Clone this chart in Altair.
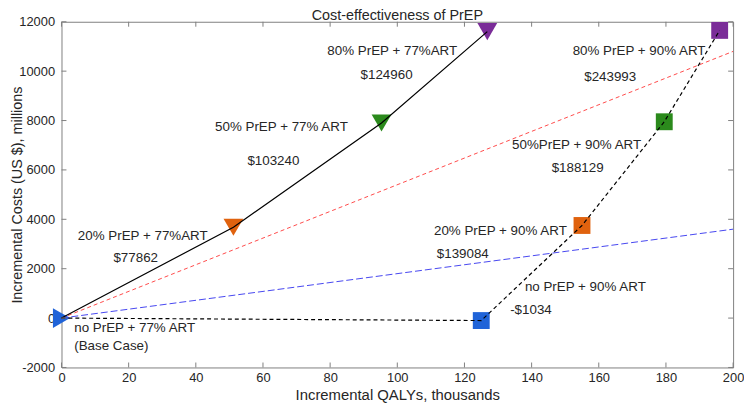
import altair as alt
import pandas as pd

# ---------------- data ----------------
x_ticks = [0, 20, 40, 60, 80, 100, 120, 140, 160, 180, 200]
y_ticks = [-2000, 0, 2000, 4000, 6000, 8000, 10000, 12000]

# strategies with 77% ART (solid line, triangles)
art77_x = [0, 51.2, 95.3, 126.8]
art77_y = [0, 3680, 7900, 11600]
art77_color = ["#1f63d8", "#e0620e", "#2b8a1c", "#7a2c98"]
art77_shape = ["triangle-right", "triangle-down", "triangle-down", "triangle-down"]

# strategies with 90% ART (dashed line, squares)
art90_x = [0, 125, 155, 179.5, 196]
art90_y = [0, -100, 3750, 7950, 11650]
sq_x = [125, 155, 179.5, 196]
sq_y = [-100, 3750, 7950, 11650]
sq_color = ["#1f63d8", "#e0620e", "#2b8a1c", "#7a2c98"]

# threshold lines
thr_x = [0, 200]
red_y = [0, 10800]
blue_y = [0, 3600]

# annotations (centered)
ann_text = ["80% PrEP + 77%ART", "$124960", "50% PrEP + 77% ART", "$103240",
            "20% PrEP + 77%ART", "$77862", "80% PrEP + 90% ART", "$243993",
            "50%PrEP + 90% ART", "$188129", "20% PrEP + 90% ART", "$139084",
            "no PrEP + 90% ART", "-$1034"]
ann_x = [98.5, 96.8, 65.5, 63.1, 24.2, 22.1, 172.0, 163.4, 153.4, 153.7, 130.7, 119.5, 156.0, 139.8]
ann_y = [10820, 9840, 7730, 6350, 3330, 2430, 10820, 9760, 7020, 6080, 3530, 2590, 1250, 310]

# annotations (left aligned)
base_text = ["no PrEP + 77% ART", "(Base Case)"]
base_x = [3.8, 3.8]
base_y = [-390, -1140]

title_text = "Cost-effectiveness of PrEP"

# ---------------- chart ----------------
W, H = 678, 349
FONT = "Liberation Sans"
TXT = "#262626"
FRAME = "#808080"

xs = alt.Scale(domain=[0, 200], nice=False, zero=False)
ys = alt.Scale(domain=[-2000, 12000], nice=False, zero=False)

x_axis = alt.Axis(values=x_ticks, title="Incremental QALYs, thousands", grid=False, domain=False,
                  ticks=False, tickSize=0, labelPadding=4, labelFontSize=13, titleFontSize=15,
                  titleFontWeight="normal", titleY=32, titleBaseline="alphabetic",
                  labelColor=TXT, titleColor=TXT, labelFlush=False, labelOverlap=False,
                  labelFont=FONT, titleFont=FONT)
y_axis = alt.Axis(values=y_ticks, title="Incremental Costs (US $), millions", grid=False, domain=False,
                  ticks=False, tickSize=0, labelPadding=7, labelFontSize=13, titleFontSize=14.5,
                  titleFontWeight="normal", titleX=-44, titleY=H / 2, titleBaseline="middle",
                  labelColor=TXT, titleColor=TXT, labelFlush=False, labelOverlap=False,
                  labelFont=FONT, titleFont=FONT,
                  labelExpr="datum.value < 0 ? '-' + abs(datum.value) : '' + datum.value")

X = alt.X("x:Q", scale=xs, axis=x_axis)
Y = alt.Y("y:Q", scale=ys, axis=y_axis)

tri_df = pd.DataFrame({"x": art77_x, "y": art77_y, "c": art77_color, "s": art77_shape})
sq_df = pd.DataFrame({"x": sq_x, "y": sq_y, "c": sq_color})
l77_df = pd.DataFrame({"x": art77_x, "y": art77_y})
l90_df = pd.DataFrame({"x": art90_x, "y": art90_y})
red_df = pd.DataFrame({"x": thr_x, "y": red_y})
blue_df = pd.DataFrame({"x": thr_x, "y": blue_y})
ann_df = pd.DataFrame({"x": ann_x, "y": ann_y, "t": ann_text})
base_df = pd.DataFrame({"x": base_x, "y": base_y, "t": base_text})
xt_df = pd.DataFrame({"x": x_ticks})
yt_df = pd.DataFrame({"y": y_ticks})
title_df = pd.DataFrame({"t": [title_text]})

tri = alt.Chart(tri_df).mark_point(filled=True, size=400, opacity=1, strokeWidth=0).encode(
    x=X, y=Y, color=alt.Color("c:N", scale=None), shape=alt.Shape("s:N", scale=None))
sq = alt.Chart(sq_df).mark_square(size=290, opacity=1).encode(
    x=X, y=Y, color=alt.Color("c:N", scale=None))

red = alt.Chart(red_df).mark_line(color="#ff4a4a", strokeDash=[4, 3], strokeWidth=1).encode(x=X, y=Y)
blue = alt.Chart(blue_df).mark_line(color="#4646f0", strokeDash=[7, 3], strokeWidth=1).encode(x=X, y=Y)
l77 = alt.Chart(l77_df).mark_line(color="black", strokeWidth=1.2).encode(x=X, y=Y)
l90 = alt.Chart(l90_df).mark_line(color="black", strokeDash=[4, 3], strokeWidth=1.2).encode(x=X, y=Y)

ann = alt.Chart(ann_df).mark_text(font=FONT, fontSize=13.5, color=TXT, align="center", baseline="middle").encode(
    x=X, y=Y, text="t:N")
base = alt.Chart(base_df).mark_text(font=FONT, fontSize=13.5, color=TXT, align="left", baseline="middle").encode(
    x=X, y=Y, text="t:N")

tick_b = alt.Chart(xt_df).mark_rule(color=FRAME).encode(x=X, y=alt.value(H), y2=alt.value(H - 5))
tick_t = alt.Chart(xt_df).mark_rule(color=FRAME).encode(x=X, y=alt.value(0), y2=alt.value(5))
tick_l = alt.Chart(yt_df).mark_rule(color=FRAME).encode(y=Y, x=alt.value(0), x2=alt.value(5))
tick_r = alt.Chart(yt_df).mark_rule(color=FRAME).encode(y=Y, x=alt.value(W), x2=alt.value(W - 5))

title = alt.Chart(title_df).mark_text(font=FONT, fontSize=14.5, color=TXT, align="center",
                                      baseline="alphabetic").encode(
    x=alt.value(W / 2), y=alt.value(-1.5), text="t:N")

chart = alt.layer(tri, sq, red, blue, l77, l90, ann, base, tick_b, tick_t, tick_l, tick_r, title).properties(
    width=W, height=H,
    autosize=alt.AutoSizeParams(type="none"),
    padding={"left": 54, "top": 12, "right": 11, "bottom": 36},
    background="white",
).configure_view(stroke=FRAME, strokeWidth=1)

chart.save("out.html", embed_options={"renderer": "svg", "actions": False})
